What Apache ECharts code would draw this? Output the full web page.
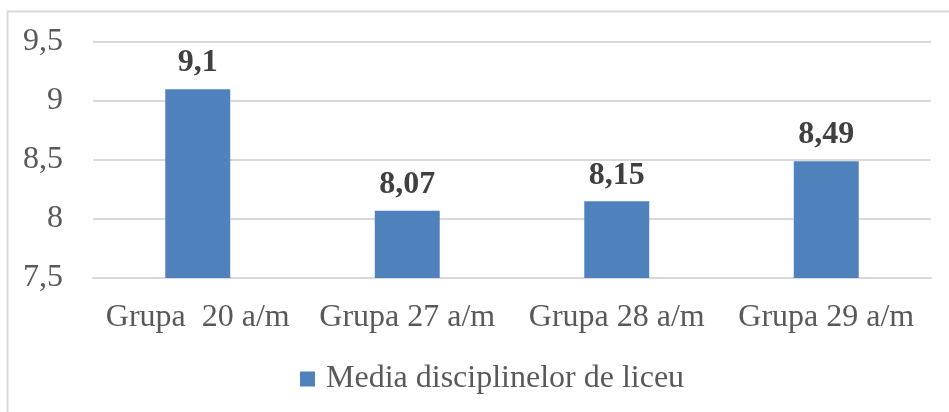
<!DOCTYPE html>
<html>
<head>
<meta charset="utf-8">
<script src="https://cdn.jsdelivr.net/npm/echarts@6/dist/echarts.min.js"></script>
<style>
  html, body { margin: 0; padding: 0; background: #fff; }
  #chart { width: 949px; height: 412px; }
</style>
</head>
<body>
<div id="chart"></div>
<script>
const categories = ["Grupa  20 a/m", "Grupa 27 a/m", "Grupa 28 a/m", "Grupa 29 a/m"];
const values = [9.1, 8.07, 8.15, 8.49];
const seriesName = "Media disciplinelor de liceu";
const yTicks = { min: 7.5, max: 9.5, interval: 0.5 };

const fmt = v => String(v).replace(".", ",");
const font = "'Liberation Serif', 'Times New Roman', serif";

const chart = echarts.init(document.getElementById("chart"));
const option = {
  animation: false,
  color: ["#4F81BD"],
  graphic: [
    {
      type: "polyline",
      silent: true,
      shape: { points: [[7.5, 420], [7.5, 11.5], [960, 11.5]] },
      style: { stroke: "#d9d9d9", lineWidth: 2, fill: null }
    }
  ],
  grid: { left: 93, right: 18, top: 42, bottom: 134, containLabel: false },
  legend: {
    data: [seriesName],
    left: 295,
    top: 358,
    icon: "rect",
    itemWidth: 15,
    itemHeight: 15,
    textStyle: {
      fontFamily: font,
      fontSize: 32,
      color: "#595959",
      padding: [0, 0, 0, 6]
    }
  },
  xAxis: {
    type: "category",
    data: categories,
    axisTick: { show: false },
    axisLine: { show: true, lineStyle: { color: "#d9d9d9", width: 2 } },
    axisLabel: {
      interval: 0,
      fontFamily: font,
      fontSize: 32,
      color: "#595959",
      margin: 24
    }
  },
  yAxis: {
    type: "value",
    min: yTicks.min,
    max: yTicks.max,
    interval: yTicks.interval,
    axisLine: { show: false },
    axisTick: { show: false },
    splitLine: { lineStyle: { color: "#d9d9d9", width: 2 } },
    axisLabel: {
      fontFamily: font,
      fontSize: 32,
      color: "#595959",
      margin: 30,
      formatter: fmt
    }
  },
  series: [
    {
      name: seriesName,
      type: "bar",
      data: values,
      barWidth: "31%",
      label: {
        show: true,
        position: "top",
        distance: 10,
        fontFamily: font,
        fontSize: 32,
        fontWeight: "bold",
        color: "#404040",
        formatter: p => fmt(p.value)
      }
    }
  ]
};
chart.setOption(option);
</script>
</body>
</html>
